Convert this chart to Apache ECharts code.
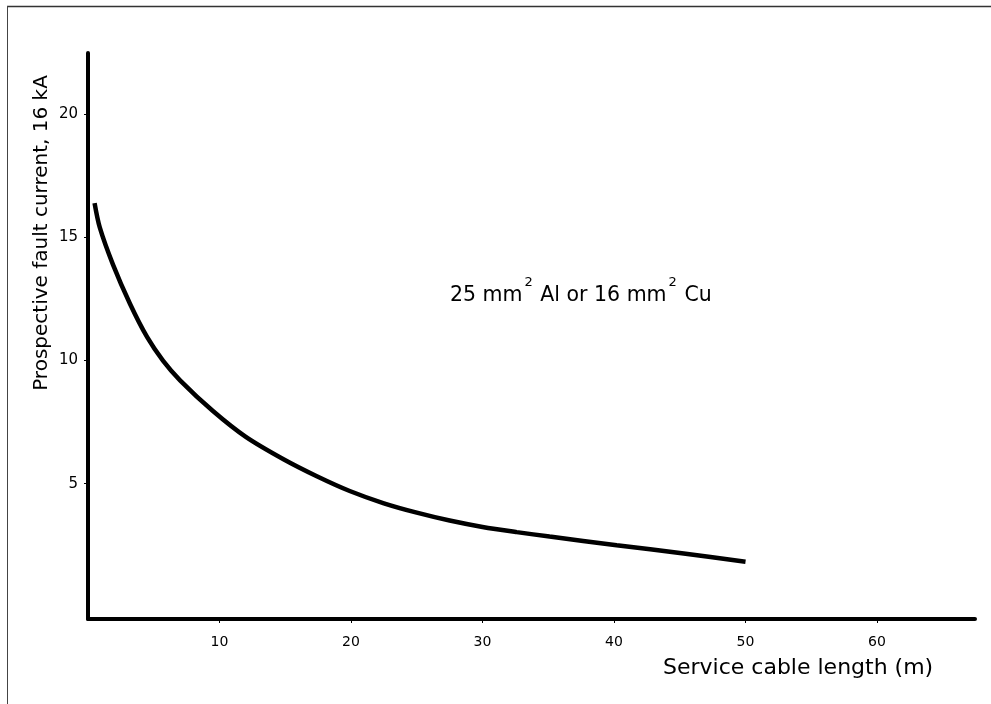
<!DOCTYPE html>
<html>
<head>
<meta charset="utf-8">
<title>Prospective fault current vs service cable length</title>
<script src="https://cdn.jsdelivr.net/npm/echarts@6/dist/echarts.min.js"></script>
<style>
  html, body { margin: 0; padding: 0; background: #fff; }
  #chart { width: 991px; height: 704px; }
</style>
</head>
<body>
<div id="chart"></div>
<script>
// cable length (m)
const cableLength = [0.5, 0.9, 1.9, 3.2, 4.5, 5.7, 7, 9.5, 12, 14.9, 17.4, 19.9, 22.5, 25, 27.5, 30, 32.6, 35.1, 40.2, 45.3, 50]
// prospective fault current (kA)
const faultCurrent = [16.4, 15.4, 13.9, 12.3, 10.95, 10.0, 9.2, 7.95, 6.9, 5.98, 5.3, 4.7, 4.2, 3.82, 3.5, 3.24, 3.03, 2.85, 2.5, 2.16, 1.83]
const xTicks = [10, 20, 30, 40, 50, 60]
const yTicks = [5, 10, 15, 20]

const font = 'DejaVu Sans'
const chart = echarts.init(document.getElementById('chart'))

chart.setOption({
    backgroundColor: '#fff',
    animation: false,
    grid: { left: 88, right: 16, top: 53, bottom: 85 },
    xAxis: {
        type: 'value',
        min: 0,
        max: 67.45,
        interval: 10,
        axisLine: { onZero: false, lineStyle: { color: '#000', width: 4 } },
        axisTick: { show: true, customValues: xTicks, length: 4, lineStyle: { color: '#000', width: 1 } },
        axisLabel: { customValues: xTicks, color: '#000', fontFamily: font, fontSize: 14, margin: 16 },
        splitLine: { show: false }
    },
    yAxis: {
        type: 'value',
        min: -0.5,
        max: 22.5,
        axisLine: { show: true, onZero: false, lineStyle: { color: '#000', width: 4 } },
        axisTick: { show: true, customValues: yTicks, length: 4, lineStyle: { color: '#000', width: 1 } },
        axisLabel: { customValues: yTicks, color: '#000', fontFamily: font, fontSize: 15, margin: 10 },
        splitLine: { show: false }
    },
    series: [
        {
            type: 'line',
            data: cableLength.map((x, i) => [x, faultCurrent[i]]),
            smooth: 0.3,
            showSymbol: false,
            lineStyle: { color: '#000', width: 4.5, cap: 'butt' }
        }
    ],
    graphic: [
        // scan frame, top and left edges only
        { type: 'line', shape: { x1: 7, y1: 6.5, x2: 991, y2: 6.5 }, style: { stroke: '#333', lineWidth: 1.5 } },
        { type: 'line', shape: { x1: 7.5, y1: 6, x2: 7.5, y2: 704 }, style: { stroke: '#444', lineWidth: 1 } },
        {
            type: 'text',
            x: 42,
            y: 233,
            rotation: Math.PI / 2,
            style: {
                text: 'Prospective fault current, 16 kA',
                fill: '#000',
                font: '20px "DejaVu Sans"',
                textAlign: 'center',
                textVerticalAlign: 'middle'
            }
        },
        {
            type: 'text',
            x: 663,
            y: 668,
            style: {
                text: 'Service cable length (m)',
                fill: '#000',
                font: '22px "DejaVu Sans"',
                textAlign: 'left',
                textVerticalAlign: 'middle'
            }
        },
        {
            type: 'text',
            x: 450,
            y: 276,
            style: {
                text: '25 mm{s|2} Al or 16 mm{s|2} Cu',
                fill: '#000',
                fontFamily: font,
                fontSize: 20.5,
                lineHeight: 40,
                rich: {
                    s: { fontFamily: font, fontSize: 13, lineHeight: 13, verticalAlign: 'top', padding: [0, 1, 0, 2] }
                }
            }
        }
    ]
})
</script>
</body>
</html>
